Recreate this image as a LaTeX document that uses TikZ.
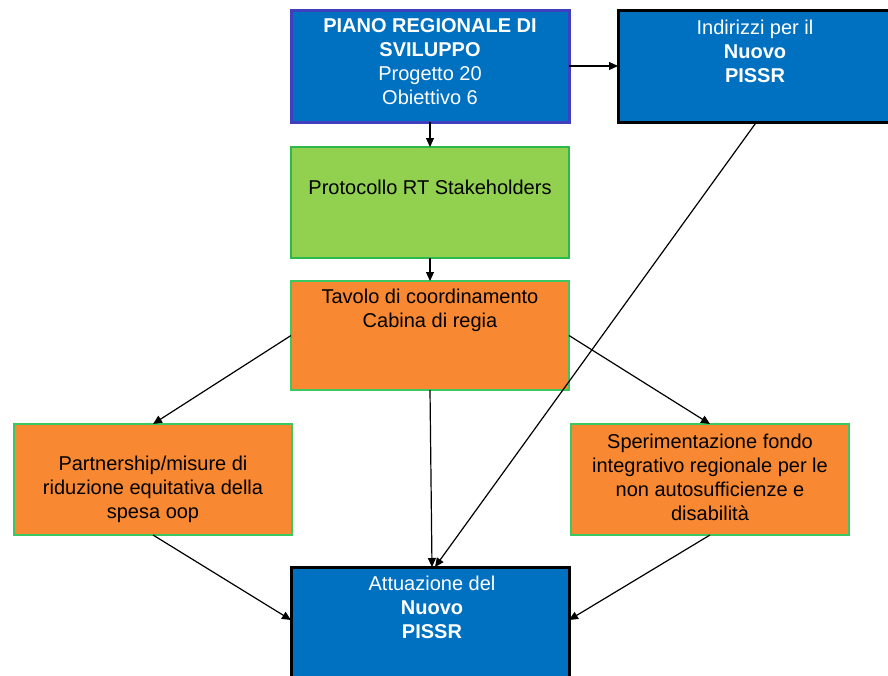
\documentclass[tikz,border=0pt]{standalone}
\usepackage{fontspec}
\setmainfont{Liberation Sans}
\usetikzlibrary{calc,arrows.meta}
\definecolor{pblue}{HTML}{0070C0}
\definecolor{pborder}{HTML}{3F3FC0}
\definecolor{pgreen}{HTML}{92D050}
\definecolor{pgreenline}{HTML}{2DB84C}
\definecolor{porange}{HTML}{F88932}
\definecolor{porline}{HTML}{3CC860}
\tikzset{
  box/.style={draw, inner sep=0pt, outer sep=0pt},
  bluebox/.style={box, fill=pblue, line width=3pt},
  greenbox/.style={box, fill=pgreen, draw=pgreenline, line width=1.3pt},
  orbox/.style={box, fill=porange, draw=porline, line width=1.3pt},
  txt/.style={align=center, font=\fontsize{20}{24}\selectfont, inner sep=0pt},
  wtxt/.style={txt, text=white},
  conn/.style={draw=black, line width=1.2pt, -{Triangle[length=9pt,width=8pt]}}
}
\begin{document}
\begin{tikzpicture}[x=1pt,y=-1pt]
\useasboundingbox (0,0) rectangle (888,675);
% boxes
\node[bluebox, draw=pborder, minimum width=278pt, minimum height=112pt] (b1) at (430,66) {};
\node[bluebox, draw=black, minimum width=277pt, minimum height=112pt] (b2) at (756.5,66) {};
\node[greenbox, minimum width=278pt, minimum height=111pt] (b3) at (430,202.5) {};
\node[orbox, minimum width=278pt, minimum height=109pt] (b4) at (430,335.5) {};
\node[orbox, minimum width=278pt, minimum height=111pt] (b5) at (153,479.5) {};
\node[orbox, minimum width=278pt, minimum height=111pt] (b6) at (710,479.5) {};
\node[bluebox, draw=black, minimum width=278pt, minimum height=130pt] (b7) at (430,632) {};
% texts
\node[wtxt, anchor=north] (t1) at (430,18) {\textbf{PIANO REGIONALE DI}\\\textbf{SVILUPPO}\\Progetto 20\\Obiettivo 6};
\node[wtxt, anchor=north] (t2) at (755,19.5) {Indirizzi per il\\\textbf{Nuovo}\\\textbf{PISSR}};
\node[txt] (t3) at (430,187.5) {Protocollo RT Stakeholders};
\node[txt, anchor=north] (t4) at (430,288.5) {Tavolo di coordinamento\\Cabina di regia};
\node[txt] (t5) at (153,489) {Partnership/misure di\\riduzione equitativa della\\spesa oop};
\node[txt] (t6) at (710,477) {Sperimentazione fondo\\integrativo regionale per le\\non autosufficienze e\\disabilità};
\node[wtxt, anchor=north] (t7) at (432,575.5) {Attuazione del\\\textbf{Nuovo}\\\textbf{PISSR}};
% connectors
\draw[conn] (b1.south) -- (b3.north);
\draw[conn] (b3.south) -- (b4.north);
\draw[conn] (b1.east) -- (b2.west);
\draw[conn] (b2.south) -- ([xshift=5pt]b7.north);
\draw[conn] (b4.south) -- ([xshift=2pt]b7.north);
\draw[conn] (b4.west) -- (b5.north);
\draw[conn] (b4.east) -- (b6.north);
\draw[conn] (b5.south) -- ($(b7.north west)+(0,53)$);
\draw[conn] (b6.south) -- ($(b7.north east)+(0,53)$);
\end{tikzpicture}
\end{document}
